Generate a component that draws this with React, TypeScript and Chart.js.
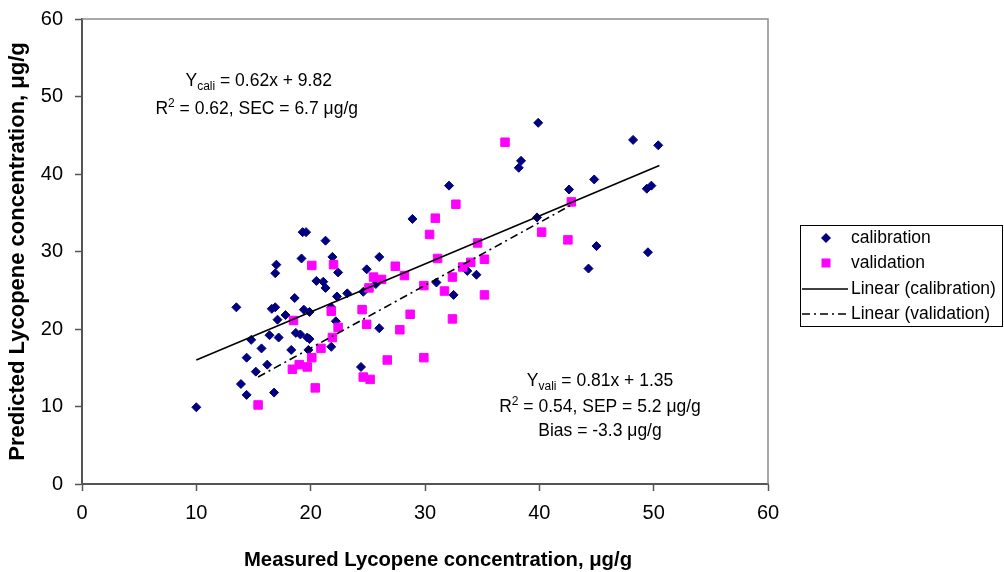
import React, { useEffect, useRef } from "react";
import { Chart, registerables } from "chart.js";

Chart.register(...registerables);

const calX = [10.0, 13.5, 13.9, 14.4, 14.4, 14.8, 15.2, 15.7, 16.2, 16.4, 16.6, 16.8, 16.9, 16.9, 17.0, 17.1, 17.2, 17.8, 18.3, 18.6, 18.7, 19.1, 19.2, 19.3, 19.6, 19.4, 19.7, 19.8, 19.9, 19.9, 20.5, 21.1, 21.3, 21.3, 21.8, 21.8, 21.9, 22.2, 22.3, 22.4, 23.2, 24.4, 24.6, 24.9, 25.7, 26.0, 26.0, 28.9, 31.0, 32.1, 32.5, 33.7, 34.5, 38.2, 38.4, 39.8, 39.9, 42.6, 44.3, 44.8, 45.0, 48.2, 49.4, 49.8, 49.5, 50.4];
const calY = [9.9, 22.8, 12.9, 11.5, 16.3, 18.6, 14.5, 17.5, 15.4, 19.2, 22.6, 11.8, 22.8, 27.2, 28.3, 21.2, 18.9, 21.8, 17.3, 24.0, 19.5, 19.3, 29.1, 32.5, 32.5, 22.5, 18.9, 17.3, 18.7, 22.2, 26.2, 26.1, 25.3, 31.4, 22.8, 17.7, 29.3, 21.0, 24.2, 27.3, 24.6, 15.1, 24.8, 27.7, 25.8, 29.3, 20.1, 34.2, 26.0, 38.5, 24.4, 27.5, 27.0, 40.8, 41.7, 34.4, 46.6, 38.0, 27.8, 39.3, 30.7, 44.4, 38.1, 38.5, 29.9, 43.7];

const valX = [15.4, 18.4, 18.5, 19.0, 19.7, 20.1, 20.1, 20.4, 20.9, 21.8, 21.9, 22.0, 22.4, 24.5, 24.6, 24.9, 25.1, 25.2, 25.5, 26.2, 26.7, 27.4, 27.8, 28.2, 28.7, 29.9, 29.9, 30.4, 30.9, 31.1, 31.7, 32.4, 32.4, 32.7, 33.3, 34.0, 34.6, 35.2, 35.2, 37.0, 40.2, 42.5, 42.8];
const valY = [10.2, 14.8, 21.1, 15.4, 15.1, 28.2, 16.3, 12.4, 17.5, 22.3, 18.9, 28.3, 20.2, 22.5, 13.8, 20.6, 25.3, 13.5, 26.7, 26.4, 16.0, 28.1, 19.9, 26.9, 21.9, 25.6, 16.3, 32.2, 34.3, 29.1, 24.9, 26.7, 21.3, 36.1, 28.0, 28.6, 31.1, 29.0, 24.4, 44.1, 32.5, 31.5, 36.4];

// Trendline end points
const calLineX = [10.0, 50.5];
const calLineY = [16.0, 41.1];
const valLineX = [15.4, 42.8];
const valLineY = [13.8, 36.0];

const tickValues = [0, 10, 20, 30, 40, 50, 60];
const legendLabels = ["calibration", "validation", "Linear (calibration)", "Linear (validation)"];
const xTitle = "Measured Lycopene concentration, \u03bcg/g";
const yTitle = "Predicted Lycopene concentration, \u03bcg/g";

const FONT = "'Liberation Sans', Arial, sans-serif";
const NAVY = "#000080";
const PINK = "#FF00FF";
const DASHDOT = [8, 4, 2, 4];

const toPts = (xs: number[], ys: number[]) => xs.map((x, i) => ({ x, y: ys[i] }));

type Part = { t: string; size: number; dy: number };

function drawRich(ctx: CanvasRenderingContext2D, parts: Part[], cx: number, baseY: number) {
  let total = 0;
  for (const p of parts) {
    ctx.font = `${p.size}px ${FONT}`;
    total += ctx.measureText(p.t).width;
  }
  let x = cx - total / 2;
  ctx.textAlign = "left";
  ctx.textBaseline = "alphabetic";
  ctx.fillStyle = "#000";
  for (const p of parts) {
    ctx.font = `${p.size}px ${FONT}`;
    ctx.fillText(p.t, x, baseY + p.dy);
    x += ctx.measureText(p.t).width;
  }
}

const overlayPlugin = {
  id: "overlay",
  afterDraw(chart: any) {
    const ctx: CanvasRenderingContext2D = chart.ctx;
    const a = chart.chartArea;
    ctx.save();
    // top and right frame
    ctx.strokeStyle = "#8c8c8c";
    ctx.lineWidth = 1.5;
    ctx.beginPath();
    ctx.moveTo(a.left, a.top);
    ctx.lineTo(a.right, a.top);
    ctx.lineTo(a.right, a.bottom);
    ctx.stroke();

    // x axis title
    ctx.fillStyle = "#000";
    ctx.font = `bold 20.3px ${FONT}`;
    ctx.textAlign = "center";
    ctx.textBaseline = "alphabetic";
    ctx.fillText(xTitle, 438, 566);

    const S = 17.5;
    const s = 12;
    drawRich(ctx, [
      { t: "Y", size: S, dy: 0 },
      { t: "cali", size: s, dy: 4 },
      { t: " = 0.62x + 9.82", size: S, dy: 0 },
    ], 258.7, 86);
    drawRich(ctx, [
      { t: "R", size: S, dy: 0 },
      { t: "2", size: s, dy: -7 },
      { t: " = 0.62, SEC = 6.7 \u03bcg/g", size: S, dy: 0 },
    ], 256.7, 113.5);
    drawRich(ctx, [
      { t: "Y", size: S, dy: 0 },
      { t: "vali", size: s, dy: 4 },
      { t: " = 0.81x + 1.35", size: S, dy: 0 },
    ], 600, 385.5);
    drawRich(ctx, [
      { t: "R", size: S, dy: 0 },
      { t: "2", size: s, dy: -7 },
      { t: " = 0.54, SEP = 5.2 \u03bcg/g", size: S, dy: 0 },
    ], 600, 411.5);
    drawRich(ctx, [{ t: "Bias = -3.3 \u03bcg/g", size: S, dy: 0 }], 600, 436);

    // legend
    ctx.strokeStyle = "#000";
    ctx.lineWidth = 1;
    ctx.setLineDash([]);
    ctx.strokeRect(800.5, 225.5, 202, 101);
    const ys = [238, 263, 289, 314];
    const mx = 826;
    ctx.fillStyle = NAVY;
    ctx.beginPath();
    ctx.moveTo(mx - 5, ys[0]);
    ctx.lineTo(mx, ys[0] - 5);
    ctx.lineTo(mx + 5, ys[0]);
    ctx.lineTo(mx, ys[0] + 5);
    ctx.closePath();
    ctx.fill();
    ctx.fillStyle = PINK;
    ctx.fillRect(mx - 4.5, ys[1] - 4.5, 9, 9);
    ctx.strokeStyle = "#000";
    ctx.lineWidth = 1.5;
    ctx.beginPath();
    ctx.moveTo(802, ys[2]);
    ctx.lineTo(848, ys[2]);
    ctx.stroke();
    ctx.setLineDash(DASHDOT);
    ctx.beginPath();
    ctx.moveTo(802, ys[3]);
    ctx.lineTo(848, ys[3]);
    ctx.stroke();
    ctx.setLineDash([]);
    ctx.fillStyle = "#000";
    ctx.font = `${S}px ${FONT}`;
    ctx.textAlign = "left";
    ctx.textBaseline = "middle";
    legendLabels.forEach((l, i) => {
      ctx.fillText(l, 851, ys[i]);
    });
    ctx.restore();
  },
};

export default function App() {
  const ref = useRef<HTMLCanvasElement>(null);
  useEffect(() => {
    if (!ref.current) return;
    const chart = new Chart(ref.current, {
      type: "scatter",
      data: {
        datasets: [
          {
            label: "Linear (calibration)",
            type: "line",
            data: toPts(calLineX, calLineY),
            borderColor: "#000",
            borderWidth: 1.6,
            pointRadius: 0,
            fill: false,
            showLine: true,
            order: -2,
          } as any,
          {
            label: "Linear (validation)",
            type: "line",
            data: toPts(valLineX, valLineY),
            borderColor: "#000",
            borderWidth: 1.6,
            borderDash: DASHDOT,
            pointRadius: 0,
            fill: false,
            showLine: true,
            order: -1,
          } as any,
          {
            label: "validation",
            data: toPts(valX, valY),
            pointStyle: "rect",
            pointRadius: 6,
            backgroundColor: PINK,
            borderColor: PINK,
            borderWidth: 1,
            order: 0,
          },
          {
            label: "calibration",
            data: toPts(calX, calY),
            pointStyle: "rectRot",
            pointRadius: 4.5,
            backgroundColor: NAVY,
            borderColor: NAVY,
            borderWidth: 1,
            order: 1,
          },
        ],
      },
      options: {
        animation: false,
        responsive: false,
        layout: { padding: { top: 19, right: 236, left: 0, bottom: 0 } },
        plugins: { legend: { display: false }, tooltip: { enabled: false } },
        scales: {
          x: {
            type: "linear",
            min: 0,
            max: 60,
            afterBuildTicks: (s: any) => {
              s.ticks = tickValues.map((v) => ({ value: v }));
            },
            afterFit: (s: any) => {
              s.height = 88;
              s.paddingLeft = 0;
              s.paddingRight = 0;
            },
            ticks: { color: "#000", font: { family: FONT, size: 20 }, padding: 10, maxRotation: 0 },
            grid: { display: true, drawOnChartArea: false, drawTicks: true, tickLength: 7, tickColor: "#555", tickWidth: 1.5 },
            border: { display: true, color: "#555", width: 2 },
            title: { display: false },
          },
          y: {
            type: "linear",
            min: 0,
            max: 60,
            afterBuildTicks: (s: any) => {
              s.ticks = tickValues.map((v) => ({ value: v }));
            },
            afterFit: (s: any) => {
              s.width = 82;
              s.paddingTop = 0;
              s.paddingBottom = 0;
            },
            ticks: { color: "#000", font: { family: FONT, size: 20 }, padding: 12 },
            grid: { display: true, drawOnChartArea: false, drawTicks: true, tickLength: 7, tickColor: "#555", tickWidth: 1.5 },
            border: { display: true, color: "#555", width: 2 },
            title: {
              display: true,
              text: yTitle,
              color: "#000",
              font: { family: FONT, size: 22, weight: "bold", lineHeight: 1 },
              padding: { top: 7, bottom: 0 },
            },
          },
        },
      },
      plugins: [overlayPlugin],
    });
    return () => chart.destroy();
  }, []);
  return (
    <div style={{ position: "absolute", left: 0, top: 0, width: 1004, height: 572, background: "#fff" }}>
      <canvas ref={ref} width={1004} height={572} style={{ display: "block" }} />
    </div>
  );
}
